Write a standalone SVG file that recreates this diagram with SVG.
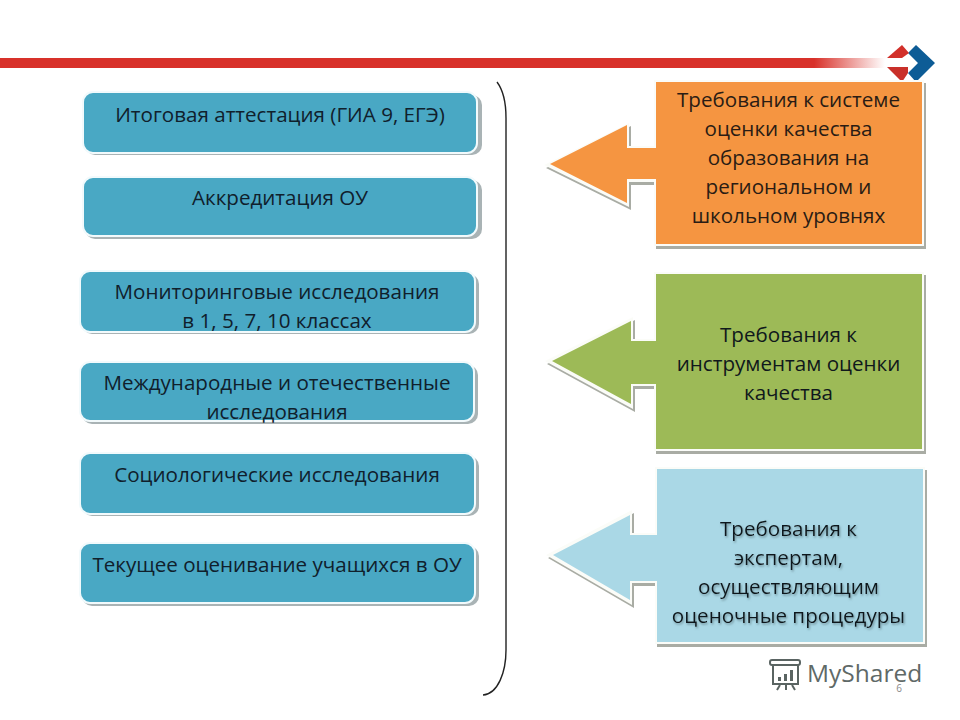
<svg xmlns="http://www.w3.org/2000/svg" width="960" height="720" viewBox="0 0 960 720">
<style>
.t{font-family:"Open Sans","Noto Sans",sans-serif;font-size:20.6px;fill:#10202c;text-anchor:middle}
.b{fill:#49a8c4;stroke:#f2fafc;stroke-width:2}
.s{fill:#a9b3b5}
.sh{fill:#a9aca4}
.w{fill:#fbfcf8}
.r{font-family:"Open Sans","Noto Sans",sans-serif;font-size:20.6px;fill:#2a1c14;text-anchor:middle}
.k{fill:#10181c}
.m{fill:none;stroke:#5a6462;stroke-width:2}
</style>
<defs>
<linearGradient id="bar" x1="0" x2="1" y1="0" y2="0">
<stop offset="0" stop-color="#d8312a"/><stop offset="0.92" stop-color="#d8312a"/><stop offset="1" stop-color="#d8312a" stop-opacity="0"/>
</linearGradient>
<filter id="ts" x="-5%" y="-20%" width="110%" height="150%"><feDropShadow dx="1" dy="1.5" stdDeviation="1" flood-color="#5c7a84" flood-opacity="0.8"/></filter>
</defs>
<rect width="960" height="720" fill="#fff"/>
<g id="top-bar">
<rect x="0" y="58" width="885" height="10" fill="url(#bar)"/>
<polygon points="916,45 935,63 916,82 908,73 918,63 908,53" fill="#0d5c96"/>
<polygon points="887,58 902,45 909,53 902,58" fill="#d2302a"/>
<polygon points="887,67 908,67 908,73 902,82" fill="#c9302a"/>
</g>
<g id="connectors">
<path d="M497 82C503 90 506 100 506 118V650C506 672 498 694 483 695" fill="none" stroke="#222" stroke-width="1.4"/>
</g>
<g id="n1"><rect class="s" x="85" y="95" width="397" height="60" rx="10"/><rect class="b" x="83" y="92" width="394" height="61" rx="10"/><text class="t" x="280" y="122">Итоговая аттестация (ГИА 9, ЕГЭ)</text></g>
<g id="n2"><rect class="s" x="85" y="180" width="397" height="59" rx="10"/><rect class="b" x="83" y="177" width="394" height="59" rx="10"/><text class="t" x="280" y="205">Аккредитация ОУ</text></g>
<g id="n3"><rect class="s" x="82" y="274" width="397" height="60" rx="10"/><rect class="b" x="80" y="271" width="395" height="61" rx="10"/><text class="t" x="277" y="299">Мониторинговые исследования</text><text class="t" x="277" y="328">в 1, 5, 7, 10 классах</text></g>
<g id="n4"><rect class="s" x="82" y="365" width="396" height="59" rx="10"/><rect class="b" x="80" y="362" width="394" height="59" rx="10"/><text class="t" x="277" y="390">Международные и отечественные</text><text class="t" x="277" y="419">исследования</text></g>
<g id="n5"><rect class="s" x="82" y="456" width="397" height="60" rx="10"/><rect class="b" x="80" y="453" width="395" height="61" rx="10"/><text class="t" x="277" y="482">Социологические исследования</text></g>
<g id="n6"><rect class="s" x="82" y="546" width="397" height="60" rx="10"/><rect class="b" x="80" y="543" width="395" height="60" rx="10"/><text class="t" x="277" y="572">Текущее оценивание учащихся в ОУ</text></g>
<g id="r1">
<path class="sh" transform="translate(2,3)" d="M654 80H924V246H654V182H629V207L544 165L629 123V146H654Z"/>
<path class="w" d="M654 80H924V246H654V182H629V207L544 165L629 123V146H654Z"/>
<path fill="#f59541" d="M656 82H922V244H656V179H627V203L550 164L627 125V148H656Z"/>
<text class="r" x="788.5" y="107">Требования к системе</text><text class="r" x="788.5" y="136">оценки качества</text><text class="r" x="788.5" y="165">образования на</text><text class="r" x="788.5" y="194">региональном и</text><text class="r" x="788.5" y="223">школьном уровнях</text>
</g>
<g id="r2">
<path class="sh" transform="translate(2,3)" d="M654 272H924V451H654V386H633V409L545 361L633 317V339H654Z"/>
<path class="w" d="M654 272H924V451H654V386H633V409L545 361L633 317V339H654Z"/>
<path fill="#9dba57" d="M656 274H922V449H656V384H631V404L552 361L631 321V341H656Z"/>
<text class="r k" x="788.5" y="342">Требования к</text><text class="r k" x="788.5" y="371">инструментам оценки</text><text class="r k" x="788.5" y="400">качества</text>
</g>
<g id="r3">
<path class="sh" transform="translate(2,3)" d="M655 467H925V644H655V583H632V605L546 555L632 510V533H655Z"/>
<path class="w" d="M655 467H925V644H655V583H632V605L546 555L632 510V533H655Z"/>
<path fill="#aad8e6" d="M657 469H923V642H657V581H630V600L553 555L630 515V535H657Z"/>
<g filter="url(#ts)"><text class="r k" x="788.5" y="536">Требования к</text><text class="r k" x="788.5" y="565">экспертам,</text><text class="r k" x="788.5" y="594">осуществляющим</text><text class="r k" x="788.5" y="623">оценочные процедуры</text></g>
</g>
<g id="watermark">
<rect class="m" x="770" y="660" width="30" height="5" rx="2"/>
<rect class="m" x="773" y="665" width="25" height="19"/>
<rect x="778" y="677" width="3" height="4" fill="#5a6462"/><rect x="784" y="674" width="3" height="7" fill="#5a6462"/><rect x="790" y="670" width="3" height="11" fill="#5a6462"/>
<path class="m" d="M780 685L777 690M786 685V690M792 685L795 690"/>
<text x="807" y="682" font-family="Open Sans,sans-serif" font-size="24.5" fill="#5f6967">MyShared</text>
<text x="899" y="692" font-family="Open Sans,sans-serif" font-size="10" fill="#8a8a8a" text-anchor="middle">6</text>
</g>
</svg>
